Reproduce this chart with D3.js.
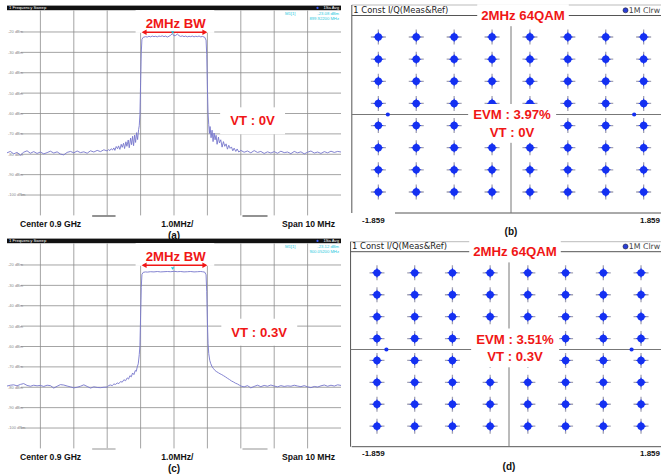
<!DOCTYPE html>
<html>
<head>
<meta charset="utf-8">
<script src="https://cdn.jsdelivr.net/npm/d3@7"></script>
<style>
  body { margin: 0; background: #fff; }
  svg { display: block; }
</style>
</head>
<body>
<svg id="fig" width="661" height="474"></svg>
<script>
// ---- spectrum analyser axes ----
const dbmTicks = [-20, -30, -40, -50, -60, -70, -80, -90, -100];
const freqGrid = [-4, -3, -2, -1, 0, 1, 2, 3, 4];

// ---- measured spectrum, VT = 0 V  [offset from 0.9 GHz in MHz, dBm] ----
const spectrumVT0 = [
  [-5.0,-79.3],[-4.9,-78.6],[-4.8,-79.8],[-4.7,-79.1],[-4.6,-80.4],[-4.5,-79.0],[-4.4,-78.3],[-4.3,-79.5],
  [-4.2,-78.7],[-4.1,-79.6],[-4.0,-78.9],[-3.9,-79.8],[-3.8,-79.2],[-3.7,-78.5],[-3.6,-79.4],[-3.5,-78.8],
  [-3.4,-79.9],[-3.3,-80.3],[-3.2,-79.1],[-3.1,-78.6],[-3.0,-79.3],[-2.9,-78.4],[-2.8,-79.2],[-2.7,-78.8],
  [-2.6,-79.5],[-2.5,-78.3],[-2.4,-78.9],[-2.3,-78.1],[-2.2,-78.7],[-2.1,-77.8],[-2.0,-78.4],
  [-1.96,-77.7],[-1.92,-78.2],[-1.88,-77.3],[-1.84,-77.9],[-1.80,-76.9],[-1.77,-78.1],[-1.73,-76.2],
  [-1.69,-77.3],[-1.66,-75.9],[-1.62,-77.6],[-1.58,-75.1],[-1.55,-76.6],[-1.51,-74.6],[-1.48,-77.2],
  [-1.44,-73.9],[-1.41,-76.1],[-1.37,-73.0],[-1.34,-76.8],[-1.30,-72.1],[-1.27,-75.3],[-1.24,-71.2],
  [-1.21,-75.8],[-1.18,-70.6],[-1.15,-74.2],[-1.12,-69.4],[-1.09,-72.8],[-1.06,-67.9],[-1.04,-66.0],
  [-1.02,-60.5],[-1.00,-45.0],[-0.98,-30.0],[-0.96,-23.6],[-0.92,-22.6],
  [-0.85,-22.3],[-0.80,-22.5],[-0.75,-22.1],[-0.70,-22.4],[-0.65,-22.0],[-0.60,-22.3],[-0.55,-22.1],
  [-0.50,-22.4],[-0.45,-22.0],[-0.40,-22.2],[-0.35,-21.9],[-0.30,-22.3],[-0.25,-22.0],[-0.20,-22.5],
  [-0.15,-22.1],[-0.10,-21.6],[-0.05,-20.8],[0.00,-21.9],[0.05,-21.7],[0.10,-21.0],[0.15,-21.8],
  [0.20,-22.2],[0.25,-21.9],[0.30,-22.3],[0.35,-22.0],[0.40,-22.4],[0.45,-22.1],[0.50,-22.3],
  [0.55,-22.0],[0.60,-22.4],[0.65,-22.1],[0.70,-22.3],[0.75,-22.0],[0.80,-22.4],[0.85,-22.2],[0.92,-22.6],
  [0.96,-24.0],[0.98,-31.0],[1.00,-47.0],[1.02,-60.0],[1.04,-65.5],[1.06,-69.8],[1.08,-66.4],[1.11,-71.9],
  [1.14,-68.2],[1.17,-73.8],[1.20,-69.6],[1.23,-72.9],[1.26,-70.7],[1.29,-75.1],[1.33,-71.6],[1.36,-74.4],
  [1.40,-72.9],[1.44,-76.5],[1.48,-73.8],[1.52,-76.1],[1.56,-74.9],[1.60,-77.5],[1.64,-75.6],[1.68,-77.1],
  [1.72,-76.4],[1.76,-78.3],[1.80,-77.0],[1.85,-78.6],[1.89,-77.4],[1.94,-78.9],[2.00,-78.1],
  [2.1,-79.0],[2.2,-78.4],[2.3,-79.3],[2.4,-78.2],[2.5,-79.1],[2.6,-78.6],[2.7,-79.6],[2.8,-78.8],
  [2.9,-79.4],[3.0,-78.7],[3.1,-79.5],[3.2,-78.5],[3.3,-79.2],[3.4,-78.9],[3.5,-79.7],[3.6,-78.6],
  [3.7,-79.3],[3.8,-78.8],[3.9,-79.8],[4.0,-79.0],[4.1,-78.4],[4.2,-79.4],[4.3,-78.9],[4.4,-79.6],
  [4.5,-78.7],[4.6,-79.3],[4.7,-78.5],[4.8,-79.1],[4.9,-78.6],[5.0,-78.9]
];

// ---- measured spectrum, VT = 0.3 V ----
const spectrumVT03 = [
  [-5.0,-79.4],[-4.9,-79.0],[-4.8,-78.8],[-4.7,-79.3],[-4.6,-78.6],[-4.5,-78.2],[-4.4,-79.1],[-4.3,-79.5],
  [-4.2,-79.0],[-4.1,-79.3],[-4.0,-79.1],[-3.9,-79.6],[-3.8,-79.0],[-3.7,-79.2],[-3.6,-80.4],[-3.5,-79.5],
  [-3.4,-78.7],[-3.3,-78.9],[-3.2,-79.4],[-3.1,-79.8],[-3.0,-80.3],[-2.9,-80.0],[-2.8,-79.5],[-2.7,-78.8],
  [-2.6,-79.6],[-2.5,-80.4],[-2.4,-79.8],[-2.3,-80.1],[-2.2,-80.2],[-2.1,-80.0],[-2.0,-79.9],
  [-1.95,-79.1],[-1.90,-78.9],[-1.85,-79.2],[-1.80,-78.4],[-1.75,-78.6],[-1.70,-77.9],[-1.65,-78.2],
  [-1.60,-77.2],[-1.55,-77.5],[-1.50,-76.3],[-1.45,-76.8],[-1.40,-75.4],[-1.36,-76.0],[-1.32,-74.3],
  [-1.28,-74.9],[-1.24,-73.0],[-1.20,-73.8],[-1.16,-71.8],[-1.13,-72.2],[-1.10,-70.0],[-1.07,-68.5],
  [-1.04,-64.0],[-1.02,-59.5],[-1.00,-45.0],[-0.98,-31.0],[-0.96,-24.6],[-0.92,-23.6],
  [-0.85,-23.4],[-0.80,-23.5],[-0.70,-23.3],[-0.60,-23.4],[-0.50,-23.2],[-0.40,-23.4],[-0.30,-23.3],
  [-0.20,-23.2],[-0.10,-23.3],[0.00,-23.1],[0.10,-23.3],[0.20,-23.2],[0.30,-23.4],[0.40,-23.3],
  [0.50,-23.2],[0.60,-23.4],[0.70,-23.3],[0.80,-23.2],[0.85,-23.3],[0.92,-23.5],
  [0.96,-24.8],[0.98,-33.0],[1.00,-48.0],[1.02,-58.5],[1.04,-63.5],[1.07,-66.8],[1.10,-68.4],[1.14,-69.9],
  [1.18,-70.8],[1.23,-71.8],[1.28,-72.4],[1.33,-72.9],[1.38,-73.4],[1.43,-73.8],[1.48,-74.3],[1.54,-74.9],
  [1.60,-75.6],[1.66,-76.2],[1.72,-76.9],[1.78,-77.4],[1.84,-78.0],[1.90,-78.4],[1.96,-79.0],[2.02,-79.5],
  [2.1,-79.8],[2.2,-79.2],[2.3,-80.3],[2.4,-79.6],[2.5,-79.0],[2.6,-79.7],[2.7,-79.1],[2.8,-79.5],
  [2.9,-78.9],[3.0,-79.4],[3.1,-79.8],[3.2,-79.2],[3.3,-79.6],[3.4,-79.3],[3.5,-79.5],[3.6,-79.0],
  [3.7,-79.4],[3.8,-79.7],[3.9,-79.2],[4.0,-79.8],[4.1,-80.2],[4.2,-79.6],[4.3,-79.9],[4.4,-79.3],
  [4.5,-78.9],[4.6,-79.5],[4.7,-79.0],[4.8,-79.4],[4.9,-78.8],[5.0,-79.1]
];

// ---- 64-QAM constellation ----
const qamLevels = [-7, -5, -3, -1, 1, 3, 5, 7];
const iqRangeLabels = ["-1.859", "1.859"];
const axisMarkersI = [-6.5, 6.5];

const svg = d3.select("#fig");
const SANS = "'Liberation Sans', Arial, Helvetica, sans-serif";
const RED = "#f01616";
const BLUE = "#1430f2";
const GRID = "#8d8d8d";

// white backing box behind a set of text/marks
function backing(g, nodes, padX, padY) {
  let x0 = Infinity, y0 = Infinity, x1 = -Infinity, y1 = -Infinity;
  nodes.forEach(n => {
    const b = n.getBBox();
    x0 = Math.min(x0, b.x); y0 = Math.min(y0, b.y);
    x1 = Math.max(x1, b.x + b.width); y1 = Math.max(y1, b.y + b.height);
  });
  return g.insert("rect", ":first-child")
    .attr("x", x0 - padX).attr("y", y0 - padY)
    .attr("width", x1 - x0 + 2 * padX).attr("height", y1 - y0 + 2 * padY)
    .attr("fill", "#fff");
}

function spectrumPanel(o) {
  const g = svg.append("g");
  const x = d3.scaleLinear().domain([-5, 5]).range([7, 341]);
  const y = d3.scaleLinear().domain([-110, -10]).range([o.top + 203.8, o.top]);

  // header bar
  g.append("rect").attr("x", 7).attr("y", o.top - 6).attr("width", 334).attr("height", 4.6)
    .attr("fill", "#111");
  g.append("text").attr("x", 9).attr("y", o.top - 2.4).attr("font-family", SANS)
    .attr("font-size", 4.2).attr("fill", "#fff").text("1 Frequency Sweep");
  g.append("circle").attr("cx", 317.5).attr("cy", o.top - 3.7).attr("r", 1.1).attr("fill", "#3a5cff");
  g.append("text").attr("x", 339).attr("y", o.top - 2.4).attr("text-anchor", "end")
    .attr("font-family", SANS).attr("font-size", 4.2).attr("fill", "#fff").text("1Sa Avg");

  // grid
  const grid = g.append("g");
  grid.selectAll("line.h").data(dbmTicks).join("line")
    .attr("x1", 21).attr("x2", 341).attr("y1", d => y(d)).attr("y2", d => y(d))
    .attr("stroke", GRID).attr("stroke-width", 0.8);
  grid.selectAll("line.v").data(freqGrid).join("line")
    .attr("x1", d => x(d)).attr("x2", d => x(d)).attr("y1", o.top - 1.2).attr("y2", y(-110))
    .attr("stroke", GRID).attr("stroke-width", 0.8);
  grid.selectAll("text").data(dbmTicks).join("text")
    .attr("x", 8).attr("y", d => y(d) + 1.4).attr("font-family", SANS).attr("font-size", 4)
    .attr("fill", "#888").text(d => `${d} dBm`);

  // short bars along the bottom edge
  g.selectAll("line.bar").data([[-2.45, -1.75], [2.05, 2.8]]).join("line")
    .attr("x1", d => x(d[0])).attr("x2", d => x(d[1]))
    .attr("y1", y(-110) + 0.6).attr("y2", y(-110) + 0.6)
    .attr("stroke", o.barColor).attr("stroke-width", 1.6);

  // trace
  const clipId = "clip" + o.id;
  g.append("clipPath").attr("id", clipId).append("rect")
    .attr("x", 7).attr("y", o.top - 1).attr("width", 334).attr("height", 206);
  g.append("path").datum(o.data)
    .attr("clip-path", `url(#${clipId})`)
    .attr("d", d3.line().x(d => x(d[0])).y(d => y(d[1])))
    .attr("fill", "none").attr("stroke", "#7676cc").attr("stroke-width", 0.9);

  // 2 MHz bandwidth annotation
  const ann = g.append("g");
  const bwText = ann.append("text").attr("x", x(0.05)).attr("y", y(-20) - 4.2)
    .attr("text-anchor", "middle").attr("font-family", SANS).attr("font-weight", "bold")
    .attr("font-size", 13.2).attr("fill", RED).text("2MHz BW");
  const ay = y(-20) + 0.3;
  const arrow = ann.append("line").attr("x1", x(-1) + 3).attr("x2", x(1) - 2)
    .attr("y1", ay).attr("y2", ay).attr("stroke", RED).attr("stroke-width", 1.6);
  ann.append("path")
    .attr("d", `M${x(-1) + 1},${ay} l5,-2.8 v5.6 Z M${x(1)},${ay} l-5,-2.8 v5.6 Z`)
    .attr("fill", RED);
  backing(ann, [bwText.node(), arrow.node()], 8, 3).attr("height", ay - (o.top - 1.5) + 0.6)
    .attr("y", o.top - 1.5);

  // marker M1
  g.append("path").attr("d", `M${x(-0.04)},${y(o.markerTip)} l-1.7,-2.6 h3.4 Z`)
    .attr("fill", "#19c6dc");

  // marker readout
  g.append("text").attr("x", 285).attr("y", o.top + 3).attr("font-family", SANS)
    .attr("font-size", 4.2).attr("fill", "#28c8dc").text("M1[1]");
  g.append("text").attr("x", 339).attr("y", o.top + 3).attr("text-anchor", "end")
    .attr("font-family", SANS).attr("font-size", 4.2).attr("fill", "#28c8dc")
    .text(`${o.markerDbm.toFixed(2)} dBm`);
  g.append("text").attr("x", 339).attr("y", o.top + 8).attr("text-anchor", "end")
    .attr("font-family", SANS).attr("font-size", 4.2).attr("fill", "#28c8dc").text(o.markerFreq);

  // tuning voltage label
  const vt = g.append("g");
  const vtText = vt.append("text").attr("x", x(o.vtAt[0])).attr("y", y(o.vtAt[1]))
    .attr("text-anchor", "middle").attr("font-family", SANS).attr("font-weight", "bold")
    .attr("font-size", 13.2).attr("fill", RED).text(o.vt);
  backing(vt, [vtText.node()], 10, 6);

  // bottom annotation
  const by = y(-110) + 12;
  g.append("text").attr("x", 20).attr("y", by).attr("font-family", SANS).attr("font-weight", "bold")
    .attr("font-size", 8.6).attr("fill", "#111").text("Center 0.9 GHz");
  g.append("text").attr("x", x(0.1)).attr("y", by).attr("text-anchor", "middle")
    .attr("font-family", SANS).attr("font-weight", "bold").attr("font-size", 8.6)
    .attr("fill", "#111").text("1.0MHz/");
  g.append("text").attr("x", 335).attr("y", by).attr("text-anchor", "end")
    .attr("font-family", SANS).attr("font-weight", "bold").attr("font-size", 8.6)
    .attr("fill", "#111").text("Span 10 MHz");
  g.append("text").attr("x", x(0)).attr("y", by + 11.5).attr("text-anchor", "middle")
    .attr("font-family", SANS).attr("font-weight", "bold").attr("font-size", 10)
    .attr("fill", "#111").text(o.letter);
}

function constellationPanel(o) {
  const g = svg.append("g");
  const x = d3.scaleLinear().domain([-8.4, 8.4]).range([o.cx - 8.4 * o.sx, o.cx + 8.4 * o.sx]);
  const y = d3.scaleLinear().domain([-9, 9]).range([o.cy + 9 * o.sy, o.cy - 9 * o.sy]);
  const left = x(-8.4), right = 668;

  // frame and header
  g.append("line").attr("x1", left).attr("x2", right).attr("y1", o.top).attr("y2", o.top)
    .attr("stroke", "#aaa").attr("stroke-width", 0.8);
  g.append("line").attr("x1", left).attr("x2", right).attr("y1", o.head).attr("y2", o.head)
    .attr("stroke", "#555").attr("stroke-width", 1);
  g.append("line").attr("x1", left).attr("x2", left).attr("y1", o.top).attr("y2", o.bottom)
    .attr("stroke", "#555").attr("stroke-width", 1);
  g.append("line").attr("x1", o.bottomFrom).attr("x2", right).attr("y1", o.bottom).attr("y2", o.bottom)
    .attr("stroke", "#555").attr("stroke-width", 1);
  g.append("text").attr("x", left + 1.5).attr("y", o.head - 2.6).attr("font-family", "'DejaVu Sans', sans-serif")
    .attr("font-size", 8.4).attr("fill", "#222").text("1 Const I/Q(Meas&Ref)");
  g.append("circle").attr("cx", 625.5).attr("cy", o.head - 5.2).attr("r", 2.5)
    .attr("fill", "#2a3ed8").attr("stroke", "#223").attr("stroke-width", 0.6);
  g.append("text").attr("x", 628.8).attr("y", o.head - 2.6).attr("font-family", "'DejaVu Sans', sans-serif")
    .attr("font-size", 7.8).attr("fill", "#444").text("1M Clrw");

  // I and Q axes
  g.append("line").attr("x1", left).attr("x2", right).attr("y1", y(0)).attr("y2", y(0))
    .attr("stroke", "#777").attr("stroke-width", 1);
  g.append("line").attr("x1", x(0)).attr("x2", x(0)).attr("y1", o.head).attr("y2", o.bottom)
    .attr("stroke", "#777").attr("stroke-width", 1);

  // constellation symbols
  const pts = [];
  qamLevels.forEach(i => qamLevels.forEach(q => pts.push([i, q])));
  const star = "M0,-5.4 L1.5,-1.5 L5.4,0 L1.5,1.5 L0,5.4 L-1.5,1.5 L-5.4,0 L-1.5,-1.5 Z";
  const sym = g.append("g").selectAll("g").data(pts).join("g")
    .attr("transform", d => `translate(${x(d[0])},${y(d[1])})`);
  sym.append("path").attr("d", "M-7.5,0 H7.5 M0,-7.5 V7.5")
    .attr("stroke", "#a2a2b4").attr("stroke-width", 1.3);
  sym.append("path").attr("d", star).attr("fill", BLUE);
  sym.append("circle").attr("r", 3.7).attr("fill", BLUE);

  g.selectAll("circle.mk").data(axisMarkersI).join("circle")
    .attr("cx", d => x(d)).attr("cy", y(0)).attr("r", 2.1).attr("fill", BLUE);

  // title and EVM labels with white backing
  const t = g.append("g");
  const title = t.append("text").attr("x", o.titleX).attr("y", o.head + 4.2).attr("text-anchor", "middle")
    .attr("font-family", SANS).attr("font-weight", "bold").attr("font-size", 13.2)
    .attr("fill", RED).text("2MHz 64QAM");
  backing(t, [title.node()], 4, 3.5);

  const e = g.append("g");
  const evm = e.append("text").attr("x", o.evmX).attr("y", o.evmY).attr("text-anchor", "middle")
    .attr("font-family", SANS).attr("font-weight", "bold").attr("font-size", 13.2)
    .attr("fill", RED).text(o.evm);
  const vt = e.append("text").attr("x", o.evmX).attr("y", o.evmY + 17.8).attr("text-anchor", "middle")
    .attr("font-family", SANS).attr("font-weight", "bold").attr("font-size", 13.2)
    .attr("fill", RED).text(o.vt);
  backing(e, [evm.node(), vt.node()], 5, 3);

  // axis range labels
  g.append("text").attr("x", 362).attr("y", o.bottom + 9.5).attr("font-family", SANS)
    .attr("font-weight", "bold").attr("font-size", 8).attr("fill", "#111").text(iqRangeLabels[0]);
  g.append("text").attr("x", 660).attr("y", o.bottom + 9.5).attr("text-anchor", "end")
    .attr("font-family", SANS).attr("font-weight", "bold").attr("font-size", 8).attr("fill", "#111")
    .text(iqRangeLabels[1]);
  g.append("text").attr("x", x(0)).attr("y", o.letterY).attr("text-anchor", "middle")
    .attr("font-family", SANS).attr("font-weight", "bold").attr("font-size", 10)
    .attr("fill", "#111").text(o.letter);
}

spectrumPanel({ id: "a", top: 11.6, data: spectrumVT0, markerDbm: -23.08, markerTip: -20.9,
  markerFreq: "899.92200 MHz", vt: "VT : 0V", vtAt: [2.35, -65.8], letter: "(a)", barColor: "#777" });
spectrumPanel({ id: "c", top: 244.6, data: spectrumVT03, markerDbm: -23.12, markerTip: -22.4,
  markerFreq: "900.05200 MHz", vt: "VT : 0.3V", vtAt: [2.55, -55.2], letter: "(c)", barColor: "#bbb" });

constellationPanel({ cx: 511, cy: 114.5, sx: 18.95, sy: 11.07, top: 5, head: 15.5, bottom: 213,
  bottomFrom: 395, titleX: 523, evmX: 512, evmY: 119, evm: "EVM : 3.97%", vt: "VT : 0V",
  letter: "(b)", letterY: 234.5 });
constellationPanel({ cx: 509, cy: 349.5, sy: 10.95, sx: 18.86, top: 241.7, head: 251.7, bottom: 446.7,
  bottomFrom: 351.7, titleX: 515, evmX: 515, evmY: 343.5, evm: "EVM : 3.51%", vt: "VT : 0.3V",
  letter: "(d)", letterY: 470 });
</script>
</body>
</html>
